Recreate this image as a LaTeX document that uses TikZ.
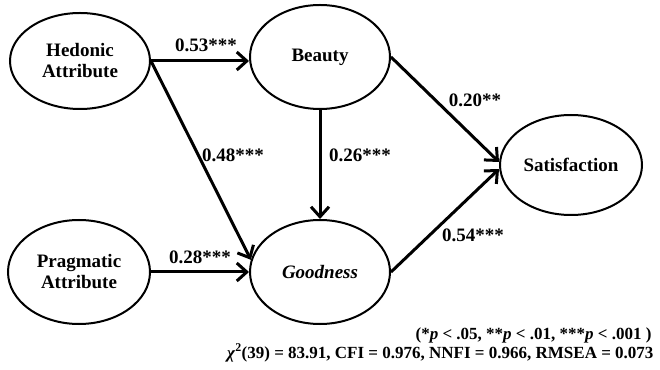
\documentclass[tikz,border=0pt]{standalone}
\usepackage{fontspec}
\setmainfont{Liberation Serif}
\usetikzlibrary{arrows.meta,shapes.geometric}

\begin{document}
\begin{tikzpicture}[x=1pt,y=1pt,line width=3pt,>={Straight Barb[length=10pt,width=18pt]},
  latent/.style={ellipse,draw,line width=2pt,inner sep=0pt,align=center,
    font=\fontsize{19}{21}\selectfont\bfseries},
  coef/.style={font=\fontsize{19}{21}\selectfont\bfseries,inner sep=1pt},
  fitline/.style={font=\fontsize{17}{19}\selectfont\bfseries,anchor=east,inner sep=0pt}]
  \useasboundingbox (0,0) rectangle (660,369);
  % latent variables
  \node[latent,minimum width=140,minimum height=96] (hed) at (80,308) {Hedonic\\Attribute};
  \node[latent,minimum width=140,minimum height=104] (bea) at (320,312) {Beauty};
  \node[latent,minimum width=142,minimum height=104] (pra) at (79,97) {Pragmatic\\Attribute};
  \node[latent,minimum width=140,minimum height=104] (goo) at (320,97) {\itshape Goodness};
  \node[latent,minimum width=142,minimum height=100] (sat) at (571,204) {Satisfaction};
  % paths
  \draw[->] (hed.east) -- (hed.east -| bea.west);
  \draw[->] (hed.east) -- (goo.170);
  \draw[->] (pra.east) -- (pra.east -| goo.west);
  \draw[->] (bea.south) -- (goo.north);
  \draw[->] (bea.east) -- ([yshift=3]sat.west);
  \draw[->] (goo.east) -- ([yshift=-4]sat.west);
  % coefficients
  \node[coef] (c53) at (206,324) {0.53***};
  \node[coef] (c48) at (233,214) {0.48***};
  \node[coef] (c26) at (360,214) {0.26***};
  \node[coef] (c20) at (475,269) {0.20**};
  \node[coef] (c54) at (473,134) {0.54***};
  \node[coef] (c28) at (200,112) {0.28***};
  % fit indices
  \node[fitline] (sig) at (653,34) {(*\textit{p} < .05, **\textit{p} < .01, ***\textit{p} < .001 )};
  \node[fitline] (fit) at (655,16) {\textit{χ}\textsuperscript{2}(39) = 83.91, CFI = 0.976, NNFI = 0.966, RMSEA = 0.073};
\end{tikzpicture}
\end{document}
